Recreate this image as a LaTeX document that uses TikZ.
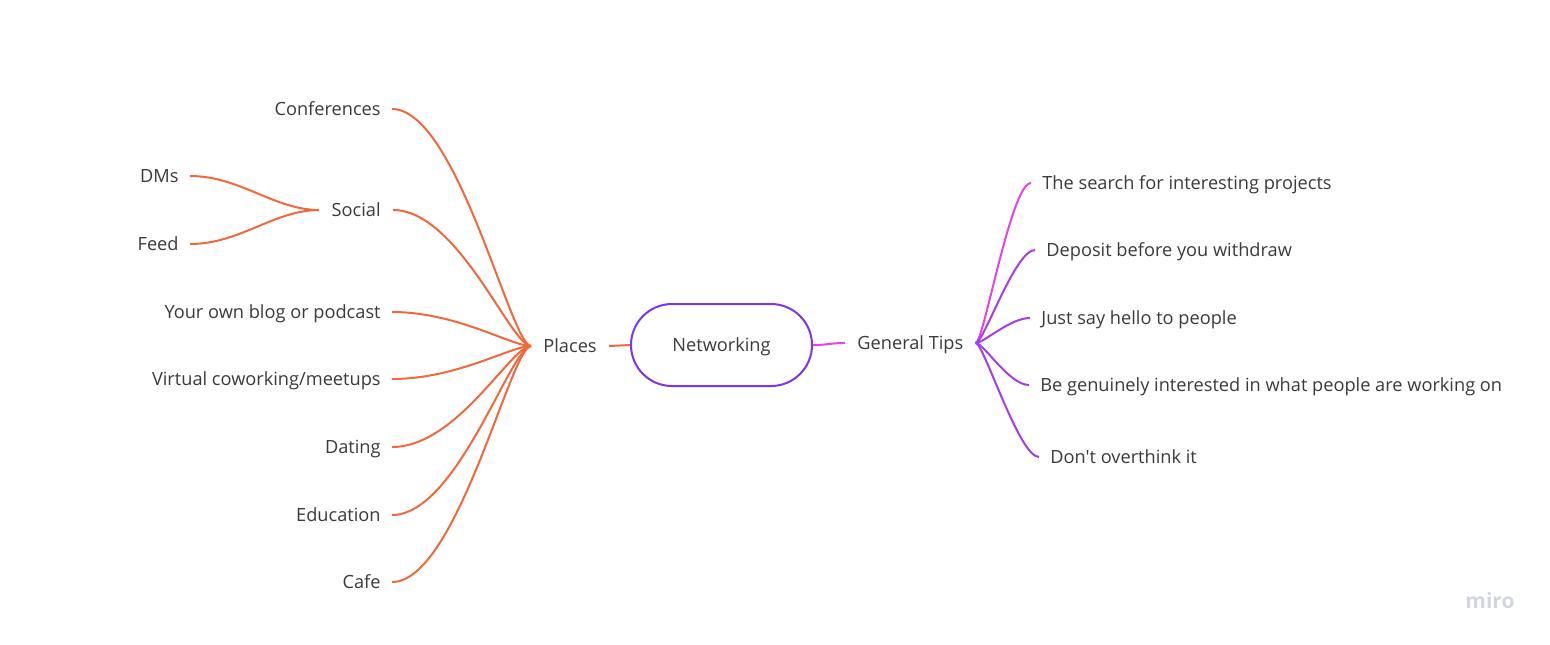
\documentclass[tikz,border=0pt]{standalone}
\usepackage{fontspec}
\setmainfont{Open Sans}[Ligatures=TeXOff]
\definecolor{txt}{HTML}{3A3A3A}
\definecolor{orng}{HTML}{F0683C}
\definecolor{pnk}{HTML}{E244E6}
\definecolor{prpl}{HTML}{A53DE8}
\definecolor{violet}{HTML}{7A35EE}
\definecolor{logo}{HTML}{D3D6DE}
\begin{document}
\begin{tikzpicture}[x=0.5pt,y=-0.5pt,
  lbl/.style={font=\fontsize{9.1pt}{11pt}\selectfont, text=txt, inner xsep=5.5pt, inner ysep=0pt, text height=6.5pt, text depth=0pt},
  hub/.style={lbl, inner xsep=6pt},
  lo/.style={draw=orng, line width=1pt},
  lp/.style={draw=prpl, line width=1pt},
  lk/.style={draw=pnk, line width=1pt}]
\useasboundingbox (0,0) rectangle (1550,644);
% center
\node[draw=violet, line width=1pt, minimum width=90.5pt, minimum height=41pt, rounded corners=20.5pt, inner sep=0pt,
  font=\fontsize{9.1pt}{11pt}\selectfont, text=txt, text height=6.5pt, text depth=0pt] (net) at (721.5,345) {Networking};
% hubs
\node[hub, anchor=west] (places) at (531,346) {Places};
\node[hub, anchor=west] (tips) at (845,343) {General Tips};
\node[hub, anchor=east] (social) at (393,210) {Social};
% left leaves
\node[lbl, anchor=east] (conf) at (392,109) {Conferences};
\node[lbl, anchor=east] (blog) at (392,312) {Your own blog or podcast};
\node[lbl, anchor=east] (virt) at (392,379) {Virtual coworking/meetups};
\node[lbl, anchor=east] (dating) at (392,447) {Dating};
\node[lbl, anchor=east] (edu) at (392,515) {Education};
\node[lbl, anchor=east] (cafe) at (392,582) {Cafe};
\node[lbl, anchor=east] (dms) at (190,176) {DMs};
\node[lbl, anchor=east] (feed) at (190,244) {Feed};
% right leaves
\node[lbl, anchor=west] (t1) at (1031,183) {The search for interesting projects};
\node[lbl, anchor=west] (t2) at (1035,250) {Deposit before you withdraw};
\node[lbl, anchor=west] (t3) at (1030,318) {Just say hello to people};
\node[lbl, anchor=west] (t4) at (1029,385) {Be genuinely interested in what people are working on};
\node[lbl, anchor=west] (t5) at (1039,457) {Don't overthink it};
% connectors left
\foreach \n in {conf,social,blog,virt,dating,edu,cafe}
  \draw[lo] (\n.east) .. controls +(65,0) and +(-20,0) .. (places.west);
\draw[lo] (dms.east) .. controls +(50,0) and +(-45,0) .. (social.west);
\draw[lo] (feed.east) .. controls +(50,0) and +(-45,0) .. (social.west);
\draw[lo] (places.east) -- (net.west);
% right
\draw[lk] (net.east) .. controls +(15,0) and +(-15,0) .. (tips.west);
\draw[lk] (tips.east) .. controls +(8,0) and +(-20,0) .. (t1.west);
\foreach \n in {t2,t3,t4,t5}
  \draw[lp] (tips.east) .. controls +(8,0) and +(-20,0) .. (\n.west);
% logo
\node[font=\fontsize{10.5pt}{12pt}\selectfont\bfseries, text=logo, inner sep=0pt] (miro) at (1490,601) {miro};
\end{tikzpicture}
\end{document}
